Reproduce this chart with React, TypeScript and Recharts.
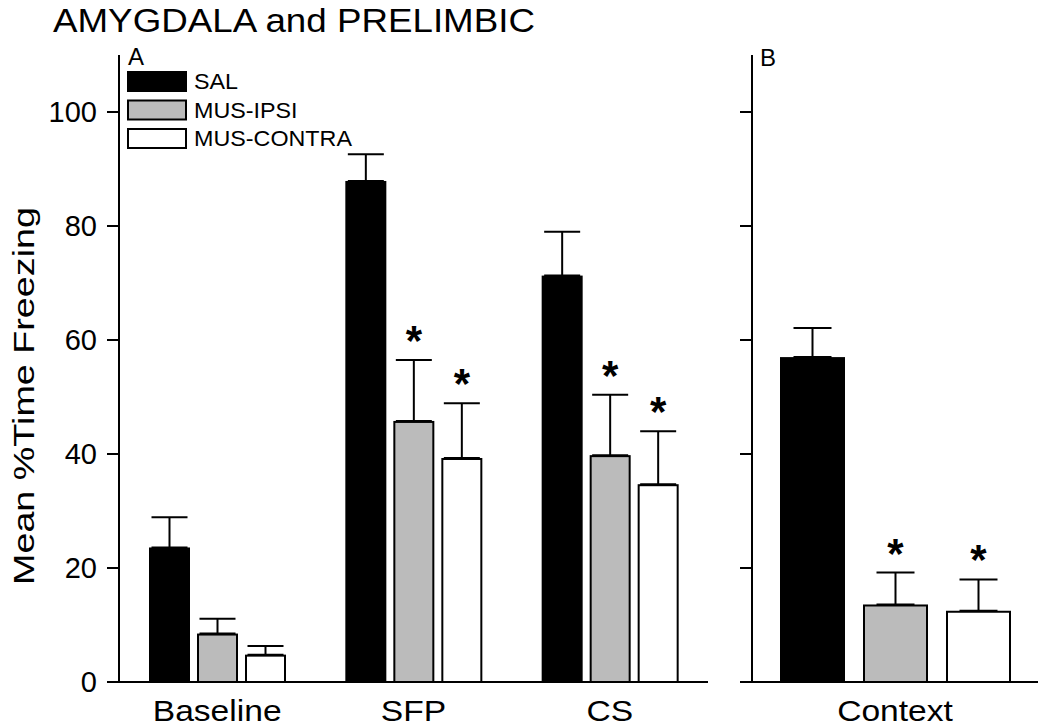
import React from 'react';
import { BarChart, Bar, XAxis, YAxis, ErrorBar, Legend } from 'recharts';

const FONT = '"Liberation Sans", Arial, Helvetica, sans-serif';

const categoriesA = ['Baseline', 'SFP', 'CS'];
const salA = [23.6, 87.9, 71.3];
const salErrA = [5.3, 4.7, 7.7];
const ipsiA = [8.5, 45.8, 39.8];
const ipsiErrA = [2.6, 10.7, 10.6];
const contraA = [4.8, 39.3, 34.7];
const contraErrA = [1.5, 9.6, 9.3];
const ipsiSigA = [false, true, true];
const contraSigA = [false, true, true];

const categoriesB = ['Context'];
const salB = [57.0];
const salErrB = [5.1];
const ipsiB = [13.6];
const ipsiErrB = [5.6];
const contraB = [12.5];
const contraErrB = [5.5];
const ipsiSigB = [true];
const contraSigB = [true];

const yTicks = [0, 20, 40, 60, 80, 100];

const seriesNames = ['SAL', 'MUS-IPSI', 'MUS-CONTRA'];
const seriesFills = ['#000000', '#bbbbbb', '#ffffff'];

function buildRows(cats: string[], sal: number[], salE: number[], ipsi: number[], ipsiE: number[], contra: number[], contraE: number[], ipsiS: boolean[], contraS: boolean[]) {
  return cats.map((c, i) => ({
    cat: c,
    sal: sal[i],
    salErr: [0, salE[i]],
    salSig: false,
    ipsi: ipsi[i],
    ipsiErr: [0, ipsiE[i]],
    ipsiSig: ipsiS[i],
    contra: contra[i],
    contraErr: [0, contraE[i]],
    contraSig: contraS[i],
  }));
}

const dataA = buildRows(categoriesA, salA, salErrA, ipsiA, ipsiErrA, contraA, contraErrA, ipsiSigA, contraSigA);
const dataB = buildRows(categoriesB, salB, salErrB, ipsiB, ipsiErrB, contraB, contraErrB, ipsiSigB, contraSigB);

const makeShape = (key: string, fill: string) => (props: any) => {
  const { x, y, width, height, payload } = props;
  const val = payload[key];
  const err = payload[key + 'Err'][1];
  const sig = payload[key + 'Sig'];
  const pxPer = val ? height / val : 0;
  const errTop = y - err * pxPer;
  const starC = errTop - 26;
  return (
    <g>
      <rect x={x + 1} y={y + 1} width={Math.max(width - 2, 0)} height={Math.max(height - 1, 0)} fill={fill} stroke="#000" strokeWidth={2} />
      {sig && (
        <text x={x + width / 2} y={starC + 21} textAnchor="middle" fontSize={42} fontWeight="bold" fontFamily={FONT} fill="#000">*</text>
      )}
    </g>
  );
};

const XTick = (props: any) => {
  const { x, y, payload } = props;
  return (
    <text transform={`translate(${x},${y + 19}) scale(1.2,1.04)`} textAnchor="middle" fontSize={28} fontFamily={FONT} fill="#000">
      {payload.value}
    </text>
  );
};

const EmptyTick = () => <g />;

const LegendContent = () => (
  <svg width={300} height={100} style={{ display: 'block', overflow: 'visible' }}>
    {seriesNames.map((n, i) => (
      <g key={n}>
        <rect x={1} y={1 + i * 28.5} width={58} height={19} fill={seriesFills[i]} stroke="#000" strokeWidth={2} />
        <text transform={`translate(67,${18 + i * 28.5}) scale(1.06,1)`} fontSize={22} fontFamily={FONT} fill="#000">{n}</text>
      </g>
    ))}
  </svg>
);

const axisStroke = { stroke: '#000', strokeWidth: 2 };

export default function App() {
  return (
    <div style={{ position: 'absolute', left: 0, top: 0, width: 1050, height: 727, background: '#fff', fontFamily: FONT, overflow: 'hidden' }}>
      <div style={{ position: 'absolute', left: 0, top: 0 }}>
        <BarChart width={720} height={727} data={dataA} margin={{ top: 55, right: 12, bottom: 0, left: 0 }} barSize={41} barGap={7}>
          <XAxis dataKey="cat" height={45} axisLine={axisStroke} tickLine={false} tickMargin={14} tick={<XTick />} interval={0} />
          <YAxis domain={[0, 110]} ticks={yTicks} width={119} tickSize={12} tickMargin={10} axisLine={axisStroke} tickLine={axisStroke} tick={{ fontSize: 29, fill: '#000', fontFamily: FONT }} allowDataOverflow />
          <Legend layout="horizontal" verticalAlign="middle" align="center" wrapperStyle={{ left: 127, top: 71, width: 300, height: 100 }} content={() => <LegendContent />} />
          <Bar dataKey="sal" name="SAL" fill={seriesFills[0]} shape={makeShape('sal', seriesFills[0])} isAnimationActive={false}>
            <ErrorBar dataKey="salErr" direction="y" width={18} stroke="#000" strokeWidth={2} />
          </Bar>
          <Bar dataKey="ipsi" name="MUS-IPSI" fill={seriesFills[1]} shape={makeShape('ipsi', seriesFills[1])} isAnimationActive={false}>
            <ErrorBar dataKey="ipsiErr" direction="y" width={18} stroke="#000" strokeWidth={2} />
          </Bar>
          <Bar dataKey="contra" name="MUS-CONTRA" fill={seriesFills[2]} shape={makeShape('contra', seriesFills[2])} isAnimationActive={false}>
            <ErrorBar dataKey="contraErr" direction="y" width={18} stroke="#000" strokeWidth={2} />
          </Bar>
        </BarChart>
      </div>
      <div style={{ position: 'absolute', left: 700, top: 0 }}>
        <BarChart width={350} height={727} data={dataB} margin={{ top: 55, right: 12, bottom: 0, left: 0 }} barSize={65} barGap={18}>
          <XAxis dataKey="cat" height={45} axisLine={axisStroke} tickLine={false} tickMargin={14} tick={<XTick />} interval={0} />
          <YAxis domain={[0, 110]} ticks={yTicks} width={52} tickSize={12} axisLine={axisStroke} tickLine={axisStroke} tick={<EmptyTick />} allowDataOverflow />
          <Bar dataKey="sal" name="SAL" fill={seriesFills[0]} shape={makeShape('sal', seriesFills[0])} isAnimationActive={false}>
            <ErrorBar dataKey="salErr" direction="y" width={19} stroke="#000" strokeWidth={2} />
          </Bar>
          <Bar dataKey="ipsi" name="MUS-IPSI" fill={seriesFills[1]} shape={makeShape('ipsi', seriesFills[1])} isAnimationActive={false}>
            <ErrorBar dataKey="ipsiErr" direction="y" width={19} stroke="#000" strokeWidth={2} />
          </Bar>
          <Bar dataKey="contra" name="MUS-CONTRA" fill={seriesFills[2]} shape={makeShape('contra', seriesFills[2])} isAnimationActive={false}>
            <ErrorBar dataKey="contraErr" direction="y" width={19} stroke="#000" strokeWidth={2} />
          </Bar>
        </BarChart>
      </div>
      <svg width={1050} height={727} style={{ position: 'absolute', left: 0, top: 0, pointerEvents: 'none' }}>
        <text x={53} y={32} fontSize={33} fontFamily={FONT} fill="#000" textLength={482} lengthAdjust="spacingAndGlyphs">AMYGDALA and PRELIMBIC</text>
        <text x={128} y={65} fontSize={24} fontFamily={FONT} fill="#000">A</text>
        <text x={760} y={66} fontSize={24} fontFamily={FONT} fill="#000">B</text>
        <text x={0} y={0} transform="translate(34,396) rotate(-90)" textAnchor="middle" fontSize={29} fontFamily={FONT} fill="#000" textLength={378} lengthAdjust="spacingAndGlyphs">Mean %Time Freezing</text>
      </svg>
    </div>
  );
}
